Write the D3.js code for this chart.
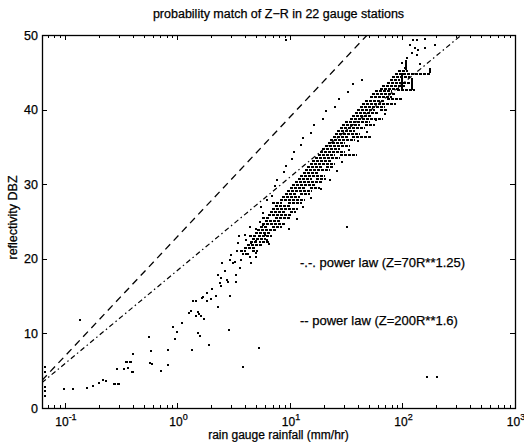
<!DOCTYPE html>
<html>
<head>
<meta charset="utf-8">
<script src="https://cdn.jsdelivr.net/npm/d3@7"></script>
<style>
  body { margin: 0; background: #fff; }
  text { font-family: "Liberation Sans", Arial, sans-serif; fill: #000; stroke: #000; stroke-width: 0.25px; }
</style>
</head>
<body>
<svg id="chart"></svg>
<script>
// axis ticks
const xTicks = [0.1, 1, 10, 100, 1000];
const xTickExp = ["-1", "0", "1", "2", "3"];
const yTicks = [0, 10, 20, 30, 40, 50];

// the two reference power laws, as end points (R, dBZ)
const law70 = [[0.0625, 3.4], [334, 50]];   // Z=70R**1.25
const law200 = [[0.0625, 3.7], [48.6, 50]]; // Z=200R**1.6

// single matched points [R mm/hr, dBZ]
const dots = [
  [0.066, 5.5], [0.066, 4.8], [0.067, 2.8], [0.067, 2.3], [0.066, 1.6],
  [0.099, 2.5], [0.119, 2.6], [0.158, 2.7], [0.179, 3.0], [0.202, 3.4], [0.219, 3.75], [0.232, 3.6],
  [0.288, 5.2], [0.336, 5.2], [0.364, 5.4], [0.405, 7.3], [0.136, 11.8],
  [0.561, 9.5], [0.58, 7.6], [0.57, 6.0], [0.59, 5.9], [0.713, 5.0], [0.818, 7.8], [0.83, 5.8],
  [0.905, 10.8], [0.95, 9.3], [0.996, 10.2], [1.09, 11.4], [1.35, 7.8],
  [1.27, 12.8], [1.33, 13.0], [1.37, 14.3], [1.47, 14.4], [1.53, 12.9], [1.55, 12.6], [1.47, 12.3],
  [1.61, 12.3], [1.53, 10.0], [1.58, 9.6], [1.73, 11.9], [1.64, 14.7], [1.70, 14.9], [1.83, 14.4],
  [1.83, 15.4], [2.0, 14.6], [2.03, 15.9], [2.22, 15.0], [2.3, 13.5], [2.3, 17.8], [2.42, 17.4],
  [2.38, 16.7], [2.42, 16.3], [2.5, 19.5], [2.64, 18.4], [2.75, 17.2], [2.8, 16.9], [2.92, 15.0],
  [3.02, 20.5], [2.92, 19.9], [3.12, 19.4], [3.22, 19.6], [3.3, 16.9], [3.3, 17.8], [3.4, 21.1],
  [3.45, 22.1], [3.7, 19.8], [3.6, 18.7], [3.83, 20.7], [4.1, 20.7], [4.27, 20.7], [3.55, 23.0],
  [3.98, 23.2], [4.4, 23.1], [4.1, 22.5], [4.4, 24.3], [4.5, 22.1], [4.4, 20.3], [4.5, 19.4],
  [5.0, 20.8], [5.0, 20.3], [5.0, 22.4], [5.4, 22.3], [5.0, 24.0], [5.4, 25.0], [5.8, 24.5],
  [6.0, 23.2], [6.2, 22.5], [6.5, 22.0],
  [5.5, 27.0], [5.8, 26.2], [6.2, 27.9], [6.9, 28.4], [7.4, 29.8], [7.7, 30.6], [8.8, 31.6],
  [9.3, 32.5], [10.5, 33.4], [10.9, 34.3], [12.6, 35.2], [13.1, 36.2], [15.5, 36.9], [16.4, 38.0],
  [19.5, 38.7], [21.0, 39.8], [25.0, 40.4], [27.0, 41.4], [33.0, 42.3], [36.0, 43.4], [44.0, 44.0],
  [9.8, 24.0], [11.5, 25.3], [13.0, 26.9], [15.5, 28.2], [19.0, 29.3], [22.5, 30.6], [26.0, 31.8],
  [29.0, 33.0], [33.5, 34.6], [40.0, 35.8], [48.0, 37.0], [58.0, 38.6], [70.0, 39.4], [85.0, 40.8],
  [2.87, 10.5], [3.82, 5.5], [5.3, 8.0], [1.9, 8.4], [32.1, 24.3], [9.2, 49.3], [164, 4.2], [201, 4.2],
  [117, 48.7], [129, 48.3], [138, 48.0], [158, 48.3], [194, 48.7], [121, 47.6], [134, 47.3],
  [110, 46.9], [100, 46.3], [105, 45.6], [143, 46.1], [125, 49.3], [135, 49.3], [160, 49.4]
];

// horizontal streaks of points at one dBZ [dBZ, R from, R to]
const streaks = [
  [21.2, 3.59, 4.06], [21.2, 4.59, 5.19], [21.6, 3.90, 4.99], [22.0, 4.15, 5.64],
  [22.4, 4.41, 5.19], [22.4, 5.64, 6.64], [22.8, 4.59, 6.12], [23.2, 4.32, 4.99], [23.2, 5.19, 6.92],
  [23.6, 4.89, 6.64], [24.0, 5.09, 7.51], [24.4, 5.41, 6.37], [24.4, 6.92, 8.49], [24.8, 5.64, 9.03],
  [25.2, 6.00, 8.15], [25.6, 5.64, 6.64], [25.6, 7.36, 10.0], [26.0, 6.37, 10.4], [26.4, 6.64, 9.03],
  [26.4, 10.0, 11.3], [26.8, 6.92, 11.8], [27.2, 7.36, 10.0], [27.6, 6.92, 8.49], [27.6, 9.60, 12.8],
  [28.0, 8.15, 13.6], [28.4, 8.49, 12.3], [28.8, 9.03, 11.3], [28.8, 12.3, 15.1], [29.2, 9.40, 15.7],
  [29.6, 10.0, 13.6], [29.6, 15.1, 18.5], [30.0, 10.4, 17.0], [30.4, 11.1, 19.3], [30.8, 11.8, 15.7],
  [30.8, 17.0, 20.9], [31.2, 12.3, 20.5], [31.6, 13.0, 17.7], [32.0, 13.6, 22.7], [32.4, 14.2, 19.3],
  [32.4, 20.9, 24.6], [32.8, 15.1, 25.1], [33.2, 15.7, 23.6], [33.6, 16.7, 27.8], [34.0, 17.7, 25.1],
  [34.0, 27.8, 39.4], [34.4, 18.5, 30.8], [34.9, 19.3, 27.8], [35.3, 20.5, 34.1], [35.7, 21.8, 30.8],
  [36.1, 22.7, 37.8], [36.5, 24.1, 32.8], [36.5, 35.6, 53.6], [36.9, 25.1, 41.9], [37.3, 26.2, 37.8],
  [37.7, 27.8, 46.4], [38.1, 29.0, 41.9], [38.1, 46.4, 57.0], [38.5, 30.8, 51.4], [38.9, 34.1, 67.1],
  [39.3, 35.6, 53.6], [39.7, 37.8, 60.6], [40.1, 39.4, 57.0], [40.1, 63.1, 74.3], [40.5, 41.9, 69.9],
  [40.9, 43.7, 82.3], [41.3, 46.4, 69.9], [41.6, 72.8, 99.0], [41.8, 51.4, 80.7], [42.2, 53.6, 85.8],
  [42.6, 57.0, 80.7], [42.8, 89.3, 129], [42.9, 63.1, 95.0], [43.3, 65.7, 105], [43.7, 72.8, 121],
  [44.1, 77.4, 95.0], [44.5, 80.7, 117], [44.9, 85.8, 176], [45.3, 91.2, 112],
  [6.3, 0.341, 0.405], [4.9, 0.386, 0.419], [3.4, 0.265, 0.313]
];

// vertical pieces in the upper cluster [R, dBZ from, dBZ to]
const vstreaks = [[99, 42.6, 44.9], [121, 42.6, 44.3], [176, 44.9, 45.6], [108, 45.3, 46.6]];

const width = 524, height = 442;
const margin = { left: 42, right: 9, top: 35, bottom: 34 };

const svg = d3.select("#chart").attr("width", width).attr("height", height);

const x = d3.scaleLog().domain([0.0625, 1000]).range([margin.left, width - margin.right]);
const y = d3.scaleLinear().domain([0, 50]).range([height - margin.bottom, margin.top]);

const x0 = x.range()[0], x1 = x.range()[1], y0 = y.range()[0], y1 = y.range()[1];

// minor log ticks, top and bottom
const minor = [];
for (let e = -2; e < 3; e++) {
  for (let k = 1; k < 10; k++) {
    const v = k * Math.pow(10, e);
    if (v >= 0.0625 && v <= 1000) minor.push({ v: v, major: k === 1 });
  }
}
minor.push({ v: 1000, major: true });

const tickG = svg.append("g").attr("stroke", "#000").attr("stroke-width", 1);
minor.forEach(t => {
  const px = Math.round(x(t.v)) + 0.5;
  const len = t.major ? 5 : 3;
  tickG.append("line").attr("x1", px).attr("x2", px).attr("y1", y0).attr("y2", y0 - len);
  tickG.append("line").attr("x1", px).attr("x2", px).attr("y1", y1).attr("y2", y1 + len);
});
yTicks.forEach(v => {
  const py = Math.round(y(v)) + 0.5;
  tickG.append("line").attr("x1", x0).attr("x2", x0 + 5).attr("y1", py).attr("y2", py);
  tickG.append("line").attr("x1", x1).attr("x2", x1 - 5).attr("y1", py).attr("y2", py);
});

// box
svg.append("rect")
  .attr("x", x0 + 0.5).attr("y", y1 + 0.5)
  .attr("width", x1 - x0).attr("height", y0 - y1)
  .attr("fill", "none").attr("stroke", "#000").attr("stroke-width", 1.3);

// tick labels
yTicks.forEach(v => {
  svg.append("text")
    .attr("x", x0 - 4).attr("y", y(v) + 4.5)
    .attr("text-anchor", "end").style("font-size", "12.5px")
    .text(v);
});
xTicks.forEach((v, i) => {
  const t = svg.append("text")
    .attr("x", x(v) + 1).attr("y", 426)
    .attr("text-anchor", "middle").style("font-size", "12px");
  t.append("tspan").text("10");
  t.append("tspan").attr("dy", -6).style("font-size", "9px").text(xTickExp[i]);
});

// power law lines
const line = d3.line().x(d => x(d[0])).y(d => y(d[1]));
svg.append("clipPath").attr("id", "plotclip")
  .append("rect").attr("x", x0).attr("y", y1).attr("width", x1 - x0).attr("height", y0 - y1);

const plot = svg.append("g").attr("clip-path", "url(#plotclip)");

plot.append("path").datum(law200).attr("d", line)
  .attr("fill", "none").attr("stroke", "#000").attr("stroke-width", 1.3)
  .attr("stroke-dasharray", "7,5");
plot.append("path").datum(law70).attr("d", line)
  .attr("fill", "none").attr("stroke", "#000").attr("stroke-width", 1.2)
  .attr("stroke-dasharray", "5,3,1.5,3");

// streaks, drawn as rows of touching points
plot.selectAll("line.streak").data(streaks).enter().append("line")
  .attr("class", "streak")
  .attr("x1", d => Math.round(x(d[1]))).attr("x2", d => Math.round(x(d[2])))
  .attr("y1", d => Math.round(y(d[0])) + 0.5).attr("y2", d => Math.round(y(d[0])) + 0.5)
  .attr("stroke", "#000").attr("stroke-width", 2)
  .attr("stroke-dasharray", "3,1")
  .attr("shape-rendering", "crispEdges");
plot.selectAll("line.vstreak").data(vstreaks).enter().append("line")
  .attr("class", "vstreak")
  .attr("x1", d => Math.round(x(d[0]))).attr("x2", d => Math.round(x(d[0])))
  .attr("y1", d => y(d[1])).attr("y2", d => y(d[2]))
  .attr("stroke", "#000").attr("stroke-width", 2)
  .attr("shape-rendering", "crispEdges");

// dots
plot.selectAll("rect.dot").data(dots).enter().append("rect")
  .attr("class", "dot")
  .attr("x", d => Math.round(x(d[0]) - 1)).attr("y", d => Math.round(y(d[1]) - 1))
  .attr("width", 2).attr("height", 2).attr("fill", "#000")
  .attr("shape-rendering", "crispEdges");

// legend texts
svg.append("text").attr("x", 300).attr("y", 267).style("font-size", "13px")
  .text("-.-. power law (Z=70R**1.25)");
svg.append("text").attr("x", 300).attr("y", 325).style("font-size", "13px")
  .text("-- power law (Z=200R**1.6)");

// titles
svg.append("text").attr("x", (x0 + x1) / 2).attr("y", 18)
  .attr("text-anchor", "middle").style("font-size", "12.5px")
  .text("probability match of Z\u2212R in 22 gauge stations");
svg.append("text").attr("x", (x0 + x1) / 2).attr("y", 439)
  .attr("text-anchor", "middle").style("font-size", "12px")
  .text("rain gauge rainfall (mm/hr)");
svg.append("text")
  .attr("transform", `translate(17,${(y0 + y1) / 2 - 4}) rotate(-90)`)
  .attr("text-anchor", "middle").style("font-size", "12.5px")
  .text("reflectivity DBZ");
</script>
</body>
</html>
